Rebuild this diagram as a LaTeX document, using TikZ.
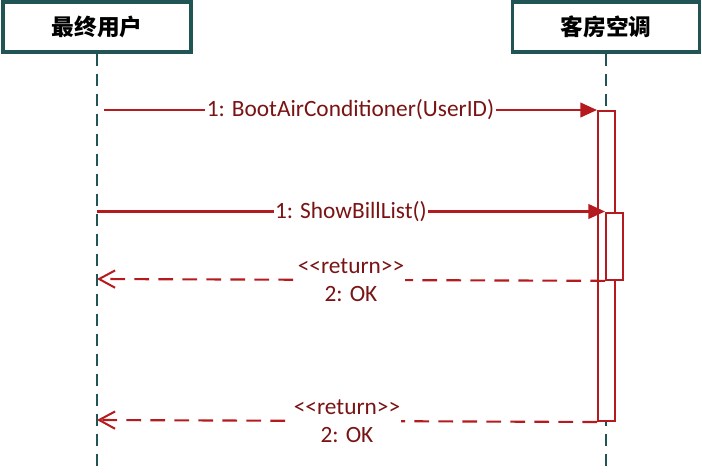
\documentclass[tikz,border=0pt]{standalone}
\usepackage{fontspec}
\setmainfont{Carlito}
\newfontfamily\cjk{Noto Sans CJK SC}
\usetikzlibrary{arrows.meta}
\definecolor{lifeteal}{HTML}{215455}
\definecolor{msgred}{HTML}{B51A1F}
\definecolor{msgtext}{HTML}{7A1313}
\begin{document}
\begin{tikzpicture}
  [x=0.75pt,y=-0.75pt
  ,actor/.style={draw=lifeteal,line width=2.6pt,fill=white,minimum height=37.5pt,
     font=\cjk\bfseries\fontsize{17}{20}\selectfont}
  ,lifeline/.style={draw=lifeteal,line width=1.5pt,dash pattern=on 9pt off 6pt}
  ,activ/.style={draw=msgred,line width=1.5pt,fill=white,anchor=north west,
     minimum width=12.75pt,inner sep=0pt}
  ,call/.style={draw=msgred,line width=1.6pt,-{Triangle[length=12.5pt,width=11pt]}}
  ,ret/.style={draw=msgred,line width=1.6pt,dash pattern=on 11pt off 7pt,
     -{Straight Barb[length=12pt,width=13pt,line width=1.5pt]}}
  ,msglabel/.style={fill=white,text=msgtext,inner sep=1pt,
     font=\fontsize{17.5}{21}\selectfont}
  ]

  % Stereotype text
  %
  % #1 - name
  \newcommand{\stereo}[1]{<\kern0pt<#1>\kern0pt>}

  % Return message
  %
  % #1 - from
  % #2 - to
  \newcommand{\retmsg}[2]{
    \draw[ret] (#1) -- (#2)
      node [midway,msglabel,align=center] {\stereo{return}\\2: OK};
  }

  \useasboundingbox (0,0) rectangle (702,472);

  % actors
  \node[actor,minimum width=141pt] (user) at (97,27) {最终用户};
  \node[actor,minimum width=140pt] (aircon) at (606,27) {客房空调};

  % lifelines
  \coordinate (userend) at (97,472);
  \coordinate (airconend) at (606,472);
  \draw[lifeline] (user.south) -- (userend);
  \draw[lifeline] (aircon.south) -- (airconend);

  % activations
  \node[activ,minimum height=232.5pt] (act1) at (597,110) {};
  \node[activ,minimum height=50.5pt] (act2) at (605,211.5) {};

  % boot
  \coordinate (bootfrom) at (104,110);
  \draw[call] (bootfrom) -- (act1.north west)
    node [midway,msglabel] {1: BootAirConditioner(UserID)};

  % bill list
  \coordinate (billfrom) at (97,211.5);
  \draw[call] (billfrom) -- (act2.north west)
    node [midway,msglabel] {1: ShowBillList()};

  % returns
  \coordinate (ret1to) at (97,279);
  \coordinate (ret2to) at (97,420);
  \retmsg{act2.south west}{ret1to}
  \retmsg{act1.south west}{ret2to}

\end{tikzpicture}
\end{document}
